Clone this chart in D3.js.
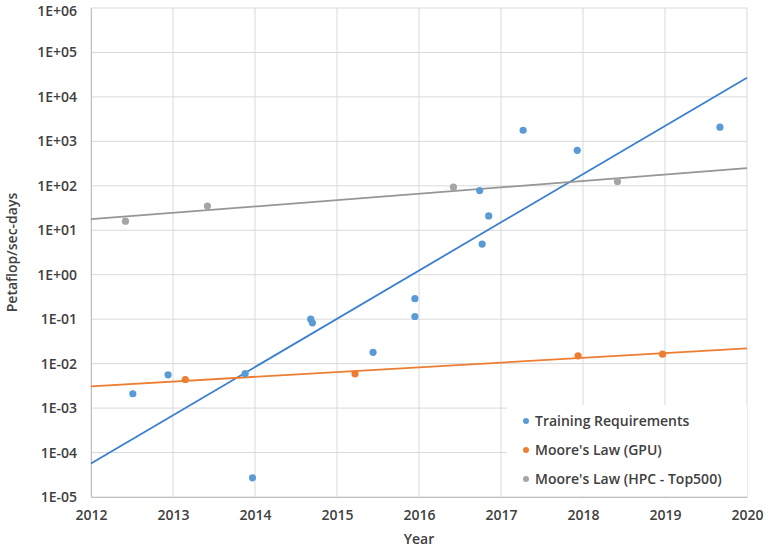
<!DOCTYPE html>
<html>
<head>
<meta charset="utf-8">
<script src="https://cdn.jsdelivr.net/npm/d3@7"></script>
<style>
	body { margin: 0; background: #fff; }
	text { font-family: "Open Sans", sans-serif; }
</style>
</head>
<body>
<div id="container"></div>
<script>
// data (year, petaflop/s-days)
const trainingYears = [2012.51, 2012.94, 2013.88, 2013.97, 2014.68, 2014.70, 2015.44, 2015.95, 2015.95, 2016.74, 2016.77, 2016.85, 2017.27, 2017.93, 2019.67]
const trainingValues = [2.1e-3, 5.6e-3, 6.0e-3, 2.7e-5, 0.10, 0.083, 0.018, 0.29, 0.115, 78, 4.9, 21, 1780, 630, 2090]

const gpuYears = [2013.15, 2015.22, 2017.94, 2018.97]
const gpuValues = [4.4e-3, 5.9e-3, 0.015, 0.0163]

const hpcYears = [2012.42, 2013.42, 2016.42, 2018.42]
const hpcValues = [16, 35, 93, 125]

const seriesNames = ["Training Requirements", "Moore's Law (GPU)", "Moore's Law (HPC - Top500)"]
const yearTicks = [2012, 2013, 2014, 2015, 2016, 2017, 2018, 2019, 2020]
const valueTicks = [1e-5, 1e-4, 1e-3, 1e-2, 1e-1, 1, 1e1, 1e2, 1e3, 1e4, 1e5, 1e6]

const width = 765
const height = 550
const margin = { top: 8, right: 18, bottom: 53, left: 91 }
const fontSize = 14

const svg = d3.select("#container")
	.append("svg")
	.attr("width", width)
	.attr("height", height)

const x = d3.scaleLinear()
	.domain([2012, 2020])
	.range([margin.left, width - margin.right])

const y = d3.scaleLog()
	.domain([1e-5, 1e6])
	.range([height - margin.bottom, margin.top])

// gridlines
svg.append("g")
	.selectAll("line")
	.data(valueTicks)
	.join("line")
	.attr("x1", margin.left)
	.attr("x2", width - margin.right)
	.attr("y1", d => y(d))
	.attr("y2", d => y(d))
	.attr("stroke", "#d9d9d9")
	.attr("stroke-width", 1)

svg.append("g")
	.selectAll("line")
	.data(yearTicks)
	.join("line")
	.attr("x1", d => x(d))
	.attr("x2", d => x(d))
	.attr("y1", margin.top)
	.attr("y2", height - margin.bottom)
	.attr("stroke", "#d9d9d9")
	.attr("stroke-width", 1)

// axes
const fmt = d => {
	const e = Math.round(Math.log10(d))
	return "1E" + (e < 0 ? "-" : "+") + String(Math.abs(e)).padStart(2, "0")
}

const yAxis = svg.append("g")
	.attr("transform", `translate(${margin.left},0)`)
	.call(d3.axisLeft(y).tickValues(valueTicks).tickFormat(fmt).tickSize(0).tickPadding(14))
yAxis.select(".domain").attr("stroke", "#bfbfbf")
// keep the top label inside the page
yAxis.selectAll(".tick text").filter(d => d === 1e6).attr("y", 3)

const xAxis = svg.append("g")
	.attr("transform", `translate(0,${height - margin.bottom})`)
	.call(d3.axisBottom(x).tickValues(yearTicks).tickFormat(d3.format("d")).tickSize(0).tickPadding(13))
xAxis.select(".domain").attr("stroke", "#bfbfbf")

svg.selectAll(".tick text")
	.attr("font-family", "Open Sans, sans-serif")
	.attr("font-size", fontSize)
	.attr("font-weight", 600)
	.attr("fill", "#404040")

svg.append("text")
	.attr("transform", `translate(17,${(margin.top + height - margin.bottom) / 2}) rotate(-90)`)
	.attr("text-anchor", "middle")
	.attr("font-size", fontSize)
	.attr("font-weight", 600)
	.attr("fill", "#404040")
	.text("Petaflop/sec-days")

svg.append("text")
	.attr("x", (margin.left + width - margin.right) / 2)
	.attr("y", 544)
	.attr("text-anchor", "middle")
	.attr("font-size", fontSize)
	.attr("font-weight", 600)
	.attr("fill", "#404040")
	.text("Year")

// exponential trendline, least squares on log10(value)
function trend(xs, vs) {
	const ls = vs.map(Math.log10)
	const mx = d3.mean(xs), ml = d3.mean(ls)
	const b = d3.sum(xs, (d, i) => (d - mx) * (ls[i] - ml)) / d3.sum(xs, d => (d - mx) ** 2)
	const a = ml - b * mx
	return [2012, 2020].map(t => [t, Math.pow(10, a + b * t)])
}

const series = [
	{ years: trainingYears, values: trainingValues, dot: "#5b9bd5", line: "#3b7fd0" },
	{ years: gpuYears, values: gpuValues, dot: "#ed7d31", line: "#ed7d31" },
	{ years: hpcYears, values: hpcValues, dot: "#a5a5a5", line: "#969696" },
]

const line = d3.line().x(d => x(d[0])).y(d => y(d[1]))

const plot = svg.append("g")
series.forEach(s => {
	plot.append("path")
		.datum(trend(s.years, s.values))
		.attr("d", line)
		.attr("fill", "none")
		.attr("stroke", s.line)
		.attr("stroke-width", 1.8)
})
series.forEach(s => {
	plot.append("g")
		.selectAll("circle")
		.data(s.years.map((d, i) => [d, s.values[i]]))
		.join("circle")
		.attr("cx", d => x(d[0]))
		.attr("cy", d => y(d[1]))
		.attr("r", 3.6)
		.attr("fill", s.dot)
})

// legend
const legend = svg.append("g").attr("transform", "translate(507,405)")
legend.append("rect")
	.attr("width", width - margin.right - 507)
	.attr("height", height - margin.bottom - 405 - 1)
	.attr("fill", "#fff")

seriesNames.forEach((n, i) => {
	const g = legend.append("g").attr("transform", `translate(0,${16 + i * 29})`)
	g.append("circle").attr("cx", 19).attr("cy", 0).attr("r", 3).attr("fill", series[i].dot)
	g.append("text")
		.attr("x", 28)
		.attr("y", 0)
		.attr("dy", "0.35em")
		.attr("font-size", fontSize)
		.attr("font-weight", 600)
		.attr("fill", "#404040")
		.text(n)
})
</script>
</body>
</html>
